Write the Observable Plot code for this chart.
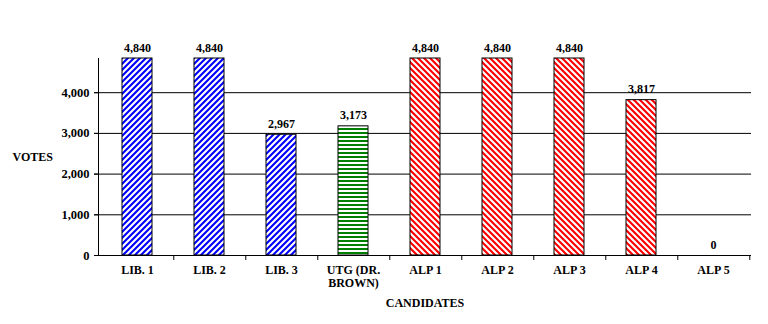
<!DOCTYPE html>
<html>
<head>
<meta charset="utf-8">
<script src="https://cdn.jsdelivr.net/npm/d3@7"></script>
<script src="https://cdn.jsdelivr.net/npm/@observablehq/plot@0.6"></script>
<style>
  html, body { margin: 0; padding: 0; background: white; }
  #chart svg, #chart svg text { font-family: "Liberation Serif", "Times New Roman", serif !important; font-weight: bold; }
</style>
</head>
<body>
<div id="chart"></div>
<script>
const candidates = ["LIB. 1", "LIB. 2", "LIB. 3", "UTG (DR. BROWN)", "ALP 1", "ALP 2", "ALP 3", "ALP 4", "ALP 5"];
const tickLabels = ["LIB. 1", "LIB. 2", "LIB. 3", "UTG (DR.\nBROWN)", "ALP 1", "ALP 2", "ALP 3", "ALP 4", "ALP 5"];
const votes = [4840, 4840, 2967, 3173, 4840, 4840, 4840, 3817, 0];
const parties = ["LIB", "LIB", "LIB", "UTG", "ALP", "ALP", "ALP", "ALP", "ALP"];
const yTicks = [0, 1000, 2000, 3000, 4000];
const gridTicks = [1000, 2000, 3000, 4000];

const W = 768, H = 324, ML = 98, MR = 17, MT = 58, MB = 69;
const step = (W - ML - MR) / candidates.length;

const patternOf = {LIB: "url(#hatchBlue)", UTG: "url(#hatchGreen)", ALP: "url(#hatchRed)"};
const data = candidates.map((c, i) => ({candidate: c, votes: votes[i], party: parties[i]}));
const labelOf = new Map(candidates.map((c, i) => [c, tickLabels[i]]));
const fmt = d3.format(",");

const barMarks = Object.keys(patternOf).map(p =>
  Plot.barY(data, {
    filter: d => d.party === p,
    x: "candidate", y: "votes",
    fill: patternOf[p], stroke: "black", strokeWidth: 1
  })
);

const chart = Plot.plot({
  width: W,
  height: H,
  marginLeft: ML,
  marginRight: MR,
  marginTop: MT,
  marginBottom: MB,
  style: {fontFamily: "Liberation Serif", fontSize: "12px", fontWeight: "bold", background: "white", color: "black"},
  x: {domain: candidates, paddingInner: 0.585, paddingOuter: 0.2925, label: null},
  y: {domain: [0, 4840], label: null},
  marks: [
    Plot.ruleY(gridTicks, {stroke: "black", strokeWidth: 1, insetLeft: -4}),
    ...barMarks,
    Plot.ruleY([0], {stroke: "black", strokeWidth: 1, insetLeft: -4}),
    Plot.frame({anchor: "left", stroke: "black", strokeOpacity: 1}),
    Plot.axisY({ticks: yTicks, tickFormat: fmt, tickSize: 4, tickPadding: 5, label: null, stroke: "black", strokeOpacity: 1, fontSize: 12.5}),
    // category labels at band centres
    Plot.axisX({tickSize: 0, tickPadding: 9, tickFormat: d => labelOf.get(d), label: null, lineAnchor: "top", lineHeight: 1.1}),
    // Excel-style tick marks between categories
    Plot.ruleX(candidates, {x: d => d, dx: step / 2, y1: 0, y2: 0, insetTop: 0, insetBottom: -5, stroke: "black", strokeWidth: 1}),
    Plot.text(data, {x: "candidate", y: "votes", text: d => fmt(d.votes), lineAnchor: "bottom", dy: -7}),
    Plot.text(["VOTES"], {frameAnchor: "left", text: d => d, textAnchor: "start", dx: -86}),
    Plot.text(["CANDIDATES"], {frameAnchor: "bottom", text: d => d, dy: 51})
  ]
});

d3.select(chart).insert("defs", ":first-child").html(`
  <pattern id="hatchBlue" patternUnits="userSpaceOnUse" width="6" height="6">
    <rect width="6" height="6" fill="white"/>
    <path d="M-1.5,1.5 L1.5,-1.5 M0,6 L6,0 M4.5,7.5 L7.5,4.5" stroke="#0000FF" stroke-width="2.1"/>
  </pattern>
  <pattern id="hatchRed" patternUnits="userSpaceOnUse" width="6" height="6">
    <rect width="6" height="6" fill="white"/>
    <path d="M-1.5,4.5 L1.5,7.5 M0,0 L6,6 M4.5,-1.5 L7.5,1.5" stroke="#FF0000" stroke-width="2.1"/>
  </pattern>
  <pattern id="hatchGreen" patternUnits="userSpaceOnUse" width="4" height="4">
    <rect width="4" height="4" fill="white"/>
    <rect y="0" width="4" height="2" fill="#008000"/>
  </pattern>
`);

document.getElementById("chart").appendChild(chart);
</script>
</body>
</html>
